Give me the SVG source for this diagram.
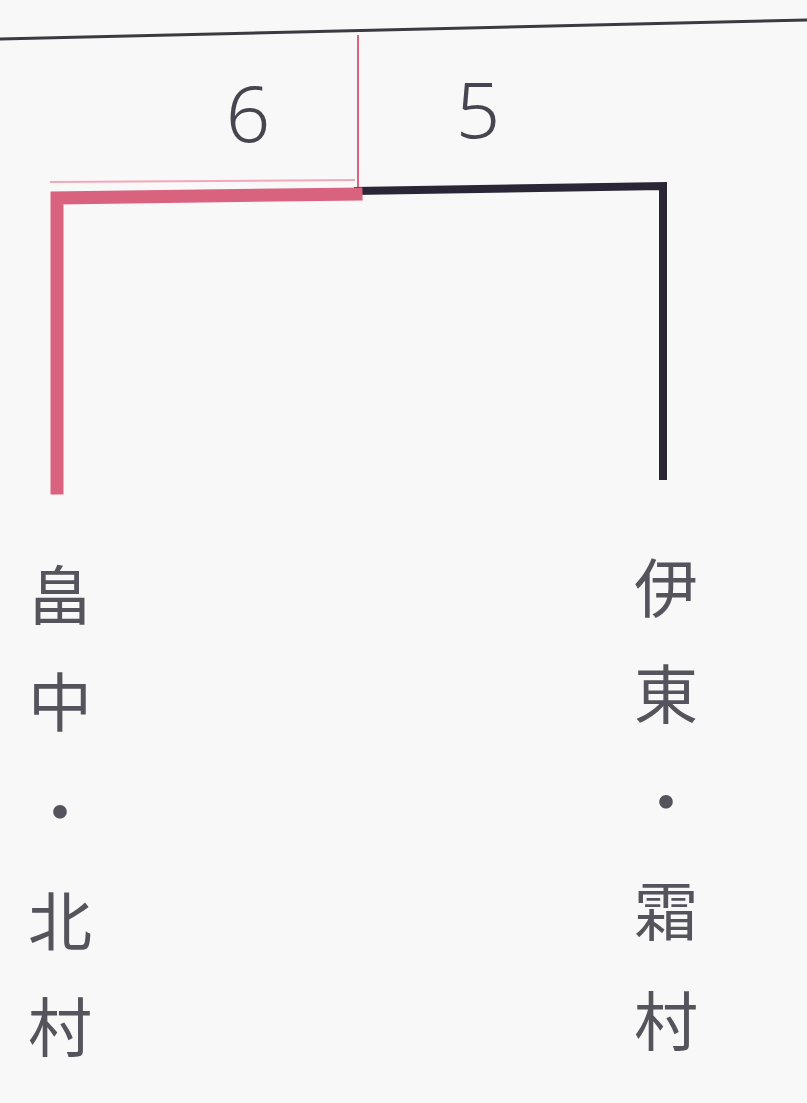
<svg xmlns="http://www.w3.org/2000/svg" width="807" height="1103" viewBox="0 0 807 1103">
<style>
.num{font-family:"Noto Sans","Liberation Sans",sans-serif;font-size:78px;fill:#474650;font-weight:300;text-anchor:middle}
.name{font-family:"Noto Sans CJK JP","Noto Sans CJK SC",sans-serif;font-size:64px;fill:#55545c;font-weight:400;text-anchor:middle}
.red{stroke:#d9627e;fill:none;stroke-linecap:square}
.blk{stroke:#2a2636;fill:none;stroke-linecap:square}
</style>
<rect width="807" height="1103" fill="#f8f8f8"/>
<g id="connectors">
<line x1="0" y1="39" x2="807" y2="20" stroke="#3a3a40" stroke-width="3"/>
<line x1="358" y1="36" x2="358" y2="192" class="red" stroke-width="2"/>
<line x1="50" y1="182" x2="355" y2="180" stroke="#f3a8b8" stroke-width="2"/>
<polyline points="663,476 663,186 358,191" class="blk" stroke-width="8"/>
<polyline points="57,488 57,198 356,194" class="red" stroke-width="13"/>
</g>
<g id="score-left"><text class="num" x="248" y="142">6</text></g>
<g id="score-right"><text class="num" x="478" y="138">5</text></g>
<g id="team-left">
<text class="name" x="60" y="619">畠</text>
<text class="name" x="60" y="726">中</text>
<text class="name" x="60" y="836">・</text>
<text class="name" x="60" y="945">北</text>
<text class="name" x="60" y="1051">村</text>
</g>
<g id="team-right">
<text class="name" x="666" y="612">伊</text>
<text class="name" x="666" y="718">東</text>
<text class="name" x="666" y="826">・</text>
<text class="name" x="666" y="935">霜</text>
<text class="name" x="666" y="1045">村</text>
</g>
</svg>
